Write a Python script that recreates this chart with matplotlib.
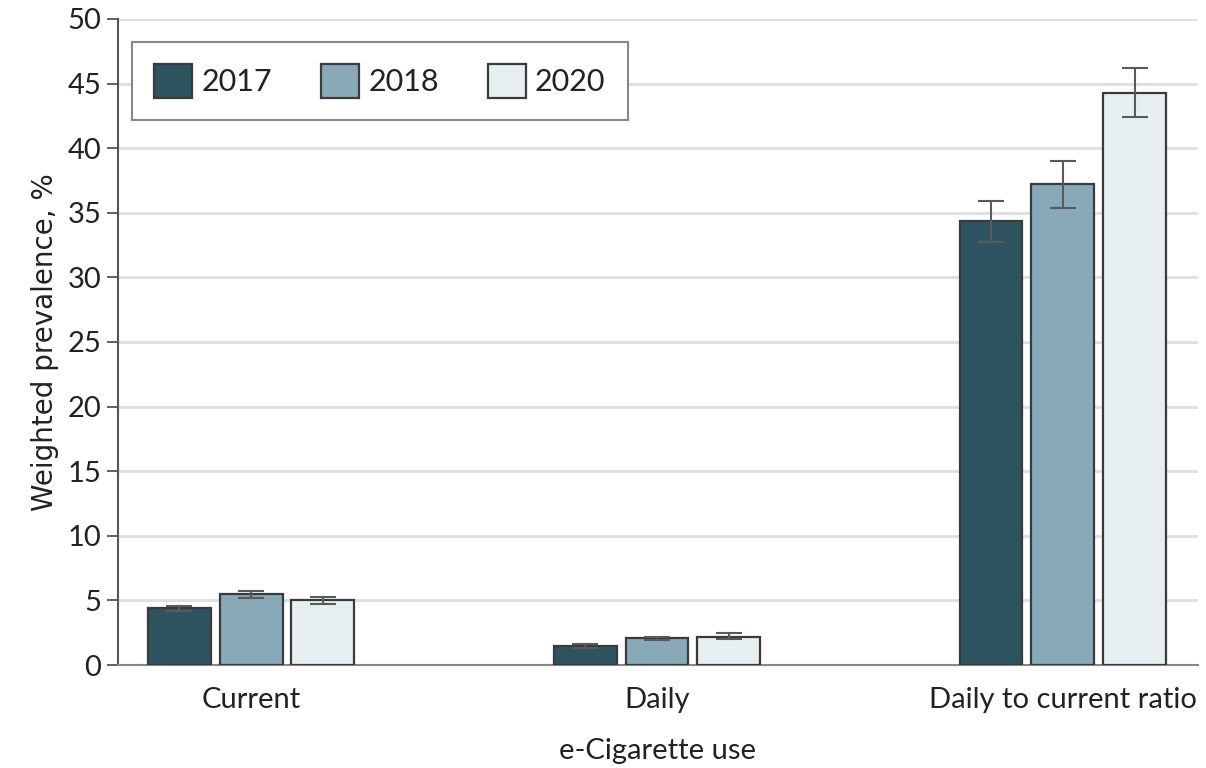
import numpy as np
import matplotlib
matplotlib.use("Agg")
import matplotlib.pyplot as plt

plt.rcParams['font.family'] = ['Lato', 'DejaVu Sans']

categories = ["Current", "Daily", "Daily to current ratio"]
years = ["2017", "2018", "2020"]
values = {
    "2017": [4.4, 1.5, 34.4],
    "2018": [5.5, 2.1, 37.2],
    "2020": [5.0, 2.2, 44.3],
}
ci_low = {
    "2017": [4.2, 1.3, 32.7],
    "2018": [5.2, 1.9, 35.4],
    "2020": [4.7, 2.0, 42.4],
}
ci_high = {
    "2017": [4.6, 1.6, 35.9],
    "2018": [5.7, 2.2, 39.0],
    "2020": [5.3, 2.5, 46.2],
}
colors = {"2017": "#2f5461", "2018": "#87a9b8", "2020": "#e8eff2"}

fig = plt.figure(figsize=(12.06, 7.68), dpi=100)
ax = fig.add_axes([0.0978, 0.1341, 0.8956, 0.8412])

x = np.arange(len(categories))
width = 0.155
step = 0.177
for i, yr in enumerate(years):
    v = np.array(values[yr])
    lo = v - np.array(ci_low[yr])
    hi = np.array(ci_high[yr]) - v
    pos = x + (i - 1) * step
    ax.bar(pos, v, width=width, color=colors[yr], edgecolor="#3a3a3a",
           linewidth=1.6, label=yr, zorder=3)
    ax.errorbar(pos, v, yerr=[lo, hi], fmt="none", ecolor="#5a5a5a",
                elinewidth=1.5, capsize=9.5, capthick=1.5, zorder=4)

ax.set_xlim(-0.328, 2.333)
ax.set_ylim(0, 50)
ax.set_yticks(np.arange(0, 51, 5))
ax.set_xticks(x)
ax.set_xticklabels(categories)
ax.yaxis.grid(True, color="#dedede", linewidth=2, zorder=0)
ax.set_axisbelow(True)

for s in ["top", "right"]:
    ax.spines[s].set_visible(False)
ax.spines["left"].set_color("#555555")
ax.spines["left"].set_linewidth(1.5)
ax.spines["bottom"].set_color("#888888")
ax.spines["bottom"].set_linewidth(1.5)

ax.tick_params(axis="y", length=8, width=1.3, color="#555555",
               labelsize=21, labelcolor="#222222", pad=4)
ax.tick_params(axis="x", length=0, labelsize=21, labelcolor="#222222", pad=16)

ax.set_ylabel("Weighted prevalence, %", fontsize=20, color="#222222",
              family=["Liberation Sans Narrow", "DejaVu Sans"], labelpad=6)
ax.set_xlabel("e-Cigarette use", fontsize=21, color="#222222", labelpad=18)

leg = ax.legend(loc="upper left", ncol=3, fontsize=22, frameon=True,
                fancybox=False, edgecolor="#888888", framealpha=1,
                handlelength=1.25, handleheight=1.3, handletextpad=0.3,
                columnspacing=1.6, borderpad=0.72, borderaxespad=0,
                bbox_to_anchor=(0.013, 0.964))
leg.get_frame().set_linewidth(1.5)
for t in leg.get_texts():
    t.set_color("#222222")

fig.savefig("out.png", dpi=100)
